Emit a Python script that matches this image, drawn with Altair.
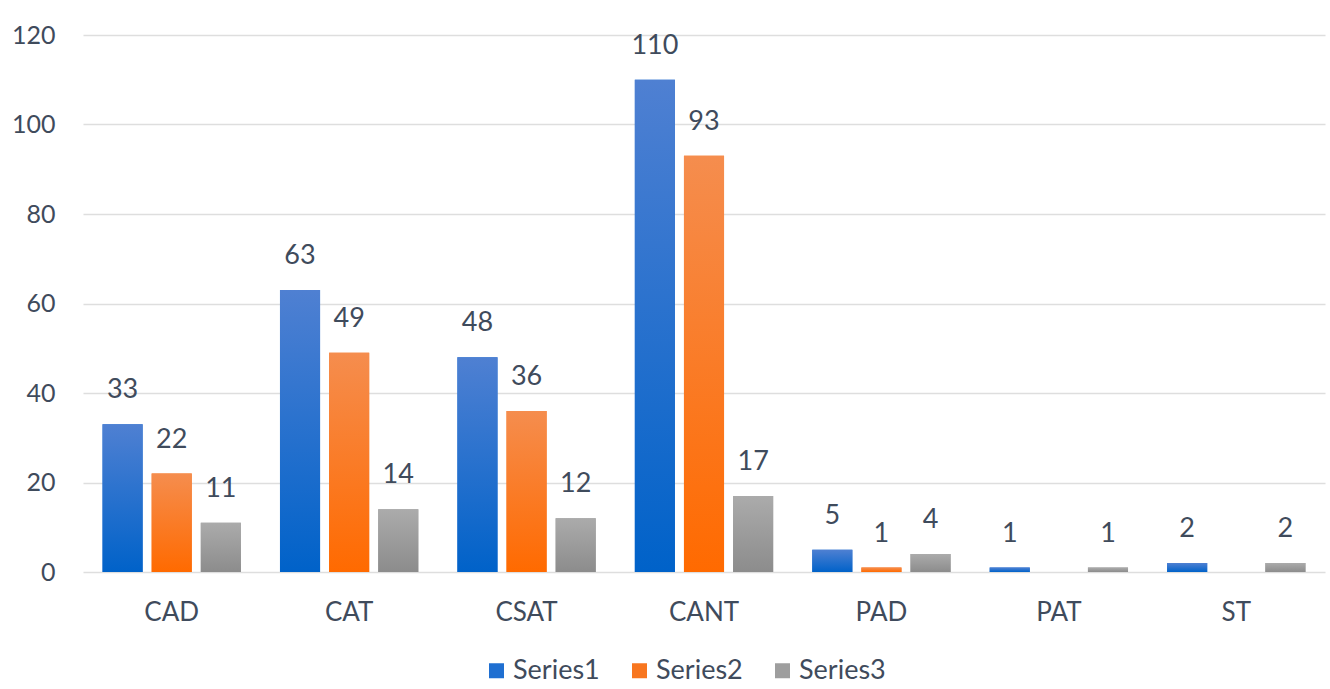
import altair as alt
import pandas as pd

categories = ["CAD", "CAT", "CSAT", "CANT", "PAD", "PAT", "ST"]
series_names = ["Series1", "Series2", "Series3"]
series1 = [33, 63, 48, 110, 5, 1, 2]
series2 = [22, 49, 36, 93, 1, 0, 0]
series3 = [11, 14, 12, 17, 4, 1, 2]
y_ticks = [0, 20, 40, 60, 80, 100, 120]

flat_colors = ["#1f6fd1", "#f8761f", "#9e9e9e"]
grad_top = ["#4f80d2", "#f58d4e", "#ababab"]
grad_bottom = ["#0062c9", "#ff6a00", "#8c8c8c"]

rows = []
for s, vals in zip(series_names, [series1, series2, series3]):
    for c, v in zip(categories, vals):
        rows.append({"cat": c, "series": s, "value": v})
df = pd.DataFrame(rows)

FONT = "Lato"
TXT = "#3f4b5c"

x_enc = alt.X("cat:N", sort=categories, title=None,
              scale=alt.Scale(paddingInner=0, paddingOuter=0),
              axis=alt.Axis(labelAngle=0, labelFontSize=26, labelColor=TXT, labelFont=FONT,
                            ticks=False, domain=False, labelPadding=27))
xo_enc = alt.XOffset("series:N", sort=series_names,
                     scale=alt.Scale(domain=series_names, paddingInner=0.184, paddingOuter=0.398))
y_enc = alt.Y("value:Q", title=None,
              scale=alt.Scale(domain=[0, 120], nice=False),
              axis=alt.Axis(values=y_ticks, labelFontSize=25, labelColor=TXT, labelFont=FONT,
                            ticks=False, domain=False, labelPadding=28,
                            grid=True, gridColor="#dedede", gridWidth=1.5))

base = alt.Chart(df)

legend_layer = base.mark_bar().encode(
    x=x_enc, xOffset=xo_enc, y=y_enc,
    color=alt.Color("series:N", sort=series_names,
                    scale=alt.Scale(domain=series_names, range=flat_colors),
                    legend=alt.Legend(title=None, orient="none", direction="horizontal",
                                      legendX=400, legendY=622,
                                      labelFontSize=27, labelColor=TXT, labelFont=FONT,
                                      symbolType="square", symbolSize=225, symbolStrokeWidth=0,
                                      columnPadding=26, labelOffset=3)),
)

layers = [legend_layer]
for i, s in enumerate(series_names):
    g = alt.Gradient(gradient="linear",
                     stops=[alt.GradientStop(color=grad_top[i], offset=0),
                            alt.GradientStop(color=grad_bottom[i], offset=1)],
                     x1=0, x2=0, y1=0, y2=1)
    layers.append(
        base.transform_filter(alt.datum.series == s).mark_bar(color=g).encode(
            x=x_enc, xOffset=xo_enc, y=y_enc)
    )

labels = base.transform_filter(alt.datum.value > 0).mark_text(
    baseline="bottom", dy=-20, fontSize=27, font=FONT, color=TXT
).encode(x=x_enc, xOffset=xo_enc, y=y_enc, text="value:Q")
layers.append(labels)

chart = alt.layer(*layers).properties(
    width=1242, height=537,
    autosize=alt.AutoSizeParams(type="none"),
    padding={"left": 83, "top": 35, "right": 5, "bottom": 117},
    background="white",
).configure_view(stroke=None)

chart.save("out.html", embed_options={"renderer": "svg", "actions": False})
